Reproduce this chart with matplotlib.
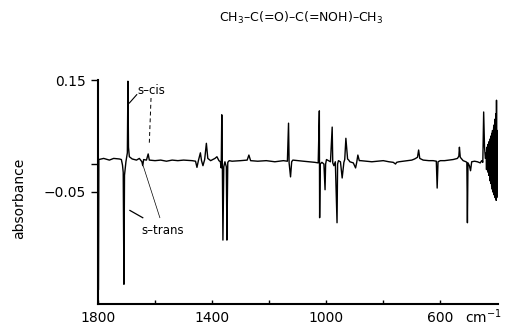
import numpy as np
import matplotlib
matplotlib.use("Agg")
import matplotlib.pyplot as plt
import matplotlib.transforms as mtransforms

# spectrum: (wavenumber cm-1, absorbance)
band_1800_1500 = [
    (1799.5, 0.006), (1799, 0.140), (1798.5, -0.225), (1797, 0.008), (1780, 0.010),
    (1760, 0.007), (1745, 0.010), (1725, 0.009), (1718, 0.008), (1714, -0.002),
    (1711.5, -0.015), (1709, -0.215), (1707, -0.020), (1702, 0.004), (1697, 0.020),
    (1695, 0.148), (1693, 0.030), (1690, 0.013), (1680, 0.009), (1665, 0.007),
    (1655, 0.010), (1646, 0.004), (1643, -0.003), (1640, 0.008), (1630, 0.007),
    (1624, 0.018), (1620, 0.007), (1600, 0.006), (1580, 0.007), (1560, 0.005),
    (1540, 0.007), (1520, 0.006), (1500, 0.007),
]
band_1500_1150 = [
    (1470, 0.006), (1458, 0.005), (1453, -0.006), (1448, 0.006), (1441, 0.020),
    (1437, 0.006), (1432, -0.003), (1426, 0.008), (1420, 0.037), (1415, 0.010),
    (1405, 0.006), (1390, 0.010), (1383, 0.013), (1376, 0.006), (1371, 0.004),
    (1368, -0.007), (1366, 0.088), (1364, 0.000), (1362, -0.136), (1359, -0.005),
    (1355, 0.004), (1350, -0.005), (1348, -0.136), (1345, 0.003), (1340, 0.006),
    (1330, 0.005), (1300, 0.006), (1277, 0.007), (1271, 0.016), (1265, 0.006),
    (1240, 0.005), (1210, 0.006), (1180, 0.004), (1150, 0.006),
]
band_1150_850 = [
    (1136, 0.005), (1132, 0.073), (1130, 0.002), (1125, -0.023), (1121, 0.004),
    (1117, 0.007), (1100, 0.006), (1080, 0.005), (1060, 0.004), (1040, 0.003),
    (1028, 0.002), (1024, 0.095), (1023, -0.096), (1021, 0.000), (1015, 0.003),
    (1008, 0.000), (1004, -0.046), (1002, 0.000), (999, 0.008), (992, 0.006),
    (985, 0.004), (979, 0.066), (977, 0.002), (973, -0.003), (968, 0.004),
    (962, -0.105), (960, 0.000), (957, 0.006), (950, 0.004), (944, -0.025),
    (938, 0.003), (935, 0.008), (931, 0.046), (925, 0.009), (921, 0.007),
    (917, 0.004), (905, 0.002), (897, -0.007), (893, 0.003), (889, 0.016),
    (884, 0.006), (879, 0.006), (860, 0.005),
]
band_850_445 = [
    (840, 0.004), (820, 0.005), (800, 0.006), (780, 0.004), (765, 0.003),
    (757, 0.000), (753, 0.003), (745, 0.004), (730, 0.005), (715, 0.006),
    (700, 0.007), (690, 0.009), (680, 0.012), (676, 0.025), (672, 0.010),
    (660, 0.007), (640, 0.006), (625, 0.006), (614, 0.005), (611, -0.043),
    (608, 0.004), (600, 0.006), (585, 0.006), (570, 0.007), (555, 0.008),
    (540, 0.010), (535, 0.014), (533, 0.030), (530, 0.012), (520, 0.006),
    (510, 0.004), (507, 0.003), (505, -0.105), (503, 0.002), (498, -0.003),
    (494, -0.012), (490, 0.004), (480, 0.005), (470, 0.004), (460, 0.002),
    (455, 0.006), (451, 0.003), (448, 0.093), (445, 0.030),
]
band_noise = [
    (442, 0.010), (440, 0.012), (439, 0.020), (438, -0.010), (437, 0.030),
    (436, -0.005), (435, 0.025), (434, -0.010), (433, 0.035), (432, -0.015),
    (431, 0.030), (430, -0.020), (429, 0.040), (428, -0.020), (427, 0.035),
    (426, -0.030), (425, 0.045), (424, -0.025), (423, 0.050), (422, -0.035),
    (421, 0.045), (420, -0.040), (419, 0.055), (418, -0.045), (417, 0.060),
    (416, -0.050), (415, 0.050), (414, -0.040), (413, 0.065), (412, -0.055),
    (411, 0.070), (410, -0.050), (409, 0.080), (408, -0.060), (407, 0.075),
    (406, -0.045), (405, 0.090), (404, -0.065), (403, 0.114), (402, -0.060),
    (401, 0.060), (400, -0.020), (399, 0.030),
]

xticks = [1800, 1400, 1000, 600]
xtick_labels = ["1800", "1400", "1000", "600"]
yticks = [0.15, -0.05]
ytick_labels = ["0.15", "\u22120.05"]

spectrum = band_1800_1500 + band_1500_1150 + band_1150_850 + band_850_445 + band_noise
wavenumber = [p[0] for p in spectrum]
absorbance = [p[1] for p in spectrum]

fig = plt.figure(figsize=(5.05, 3.31), dpi=100)
ax = fig.add_axes([0.194, 0.082, 0.792, 0.676])

ax.plot(wavenumber, absorbance, color="black", lw=1.0)

ax.set_xlim(1800, 398)
ax.set_ylim(-0.25, 0.15)

for s in ["top", "right"]:
    ax.spines[s].set_visible(False)
for s in ["left", "bottom"]:
    ax.spines[s].set_linewidth(1.5)

ax.set_xticks(xticks)
ax.set_xticklabels(xtick_labels)
ax.set_xticks([1600, 1200, 800], minor=True)
ax.set_yticks(yticks)
ax.set_yticklabels(ytick_labels)
ax.set_yticks([0.0], minor=True)
ax.tick_params(axis="x", which="both", direction="in", length=3, width=1, labelsize=10, pad=5)
ax.tick_params(axis="y", which="both", direction="out", length=5, width=1, labelsize=10, pad=4)

# unit after the 600 label
trans = mtransforms.blended_transform_factory(ax.transData, ax.transAxes)
ax.text(515, -0.018, "cm$^{-1}$", transform=trans, ha="left", va="top", fontsize=10)

fig.text(0.038, 0.40, "absorbance", rotation=90, ha="center", va="center", fontsize=10)
fig.text(0.596, 0.945, "CH$_3$\u2013C(=O)\u2013C(=NOH)\u2013CH$_3$", ha="center", va="center",
         fontsize=9)

# labels with leader lines
ax.text(1614, 0.132, "s\u2013cis", ha="center", va="center", fontsize=8.5)
ax.plot([1664, 1690], [0.124, 0.109], color="black", lw=0.8)
ax.plot([1614, 1620], [0.118, 0.038], color="black", lw=0.7, ls=(0, (4, 3)))
ax.text(1574, -0.118, "s\u2013trans", ha="center", va="center", fontsize=8.5)
ax.plot([1643, 1688], [-0.096, -0.083], color="black", lw=0.9)
ax.plot([1583, 1641], [-0.096, -0.004], color="black", lw=0.5)

fig.savefig("out.png", dpi=100)
